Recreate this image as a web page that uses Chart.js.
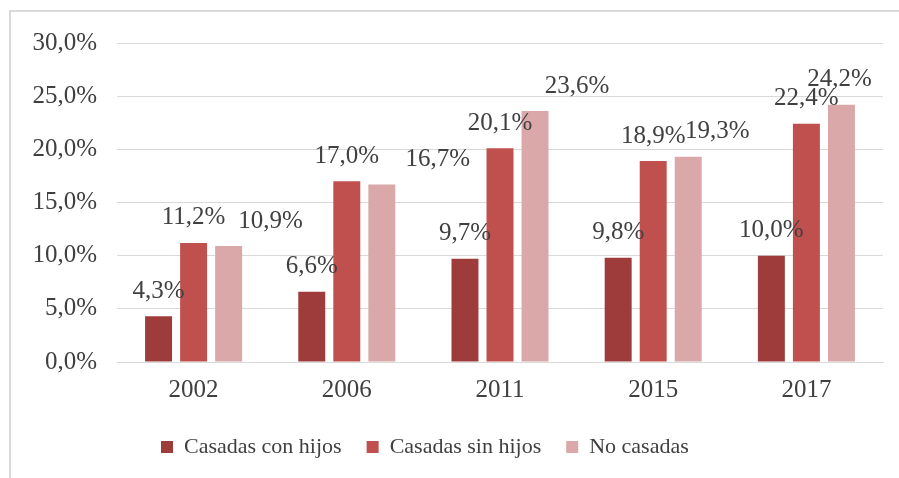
<!DOCTYPE html>
<html>
<head>
<meta charset="utf-8">
<script src="https://cdn.jsdelivr.net/npm/chart.js@4/dist/chart.umd.min.js"></script>
<style>
    body { margin: 0; background: #fff; }
    #wrap { position: relative; width: 899px; height: 478px; }
    #frame { position: absolute; left: 9px; top: 10px; right: 0; bottom: 0; border-top: 2px solid #d9d9d9; border-left: 2px solid #d9d9d9; }
    canvas { position: absolute; left: 0; top: 0; }
</style>
</head>
<body>
<div id="wrap">
    <div id="frame"></div>
    <canvas id="chartSalarios" width="899" height="478"></canvas>
</div>
<script>
let years = ["2002", "2006", "2011", "2015", "2017"];
let seriesNames = ["Casadas con hijos", "Casadas sin hijos", "No casadas"];
let casadasConHijos = [4.3, 6.6, 9.7, 9.8, 10.0];
let casadasSinHijos = [11.2, 17.0, 20.1, 18.9, 22.4];
let noCasadas = [10.9, 16.7, 23.6, 19.3, 24.2];
let yTicks = [0, 5, 10, 15, 20, 25, 30];

let barColors = ["#9e3c3c", "#c0504d", "#daa8a8"];
let textColor = "#404040";
// the pink labels are pushed right in the original so they do not sit on the red ones
let labelShift = [[0, 0, 0, 0, 0], [0, 0, 0, 0, 0], [42, 56, 42, 29, -2]];

Chart.defaults.font.family = "'Liberation Serif', 'Times New Roman', serif";

function pct(v) {
    return v.toFixed(1).replace(".", ",") + "%";
}

const valueLabels = {
    id: "valueLabels",
    afterDatasetsDraw(chart) {
        let ctx = chart.ctx;
        ctx.save();
        ctx.font = "25px 'Liberation Serif'";
        ctx.fillStyle = textColor;
        ctx.textAlign = "center";
        ctx.textBaseline = "middle";
        chart.data.datasets.forEach(function (ds, i) {
            chart.getDatasetMeta(i).data.forEach(function (bar, j) {
                ctx.fillText(pct(ds.data[j]), bar.x + labelShift[i][j], bar.y - 25);
            });
        });
        ctx.restore();
    }
};

const legendShift = {
    id: "legendShift",
    afterLayout(chart) {
        chart.legend.left = 136;
    }
};

let datasets = [casadasConHijos, casadasSinHijos, noCasadas].map(function (values, i) {
    return {
        label: seriesNames[i],
        data: values,
        backgroundColor: barColors[i],
        categoryPercentage: 0.686,
        barPercentage: 0.77
    };
});

new Chart("chartSalarios", {
    type: "bar",
    data: {
        labels: years,
        datasets: datasets
    },
    plugins: [valueLabels, legendShift],
    options: {
        responsive: false,
        animation: false,
        layout: {
            padding: { left: 0, right: 16, top: 43, bottom: 10 }
        },
        scales: {
            x: {
                grid: { display: false },
                border: { color: "#d9d9d9" },
                ticks: { color: textColor, font: { size: 25 }, padding: 5 },
                afterFit: function (s) { s.height = 49; }
            },
            y: {
                min: 0,
                max: 30,
                afterBuildTicks: function (s) { s.ticks = yTicks.map(v => ({ value: v })); },
                grid: { color: "#d9d9d9", drawTicks: false },
                border: { display: false },
                ticks: {
                    color: textColor,
                    font: { size: 25 },
                    padding: 20,
                    callback: function (v) { return pct(v); }
                },
                afterFit: function (s) { s.width = 117; }
            }
        },
        plugins: {
            legend: {
                position: "bottom",
                align: "start",
                labels: {
                    color: textColor,
                    font: { size: 22 },
                    boxWidth: 12,
                    boxHeight: 12,
                    padding: 25
                }
            },
            tooltip: { enabled: false }
        }
    }
});
</script>
</body>
</html>
